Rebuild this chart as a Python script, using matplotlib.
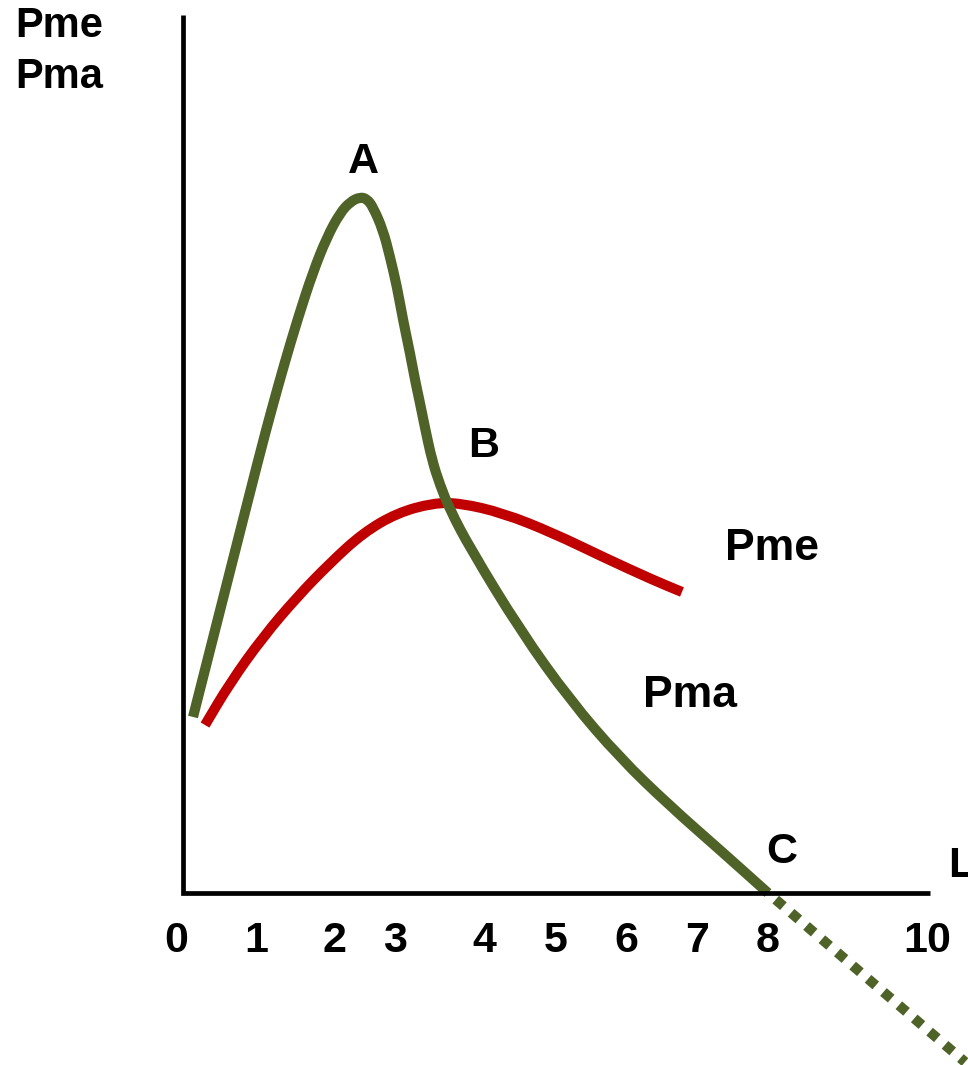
import numpy as np
import matplotlib
matplotlib.use("Agg")
import matplotlib.pyplot as plt
from matplotlib.path import Path
from matplotlib.patches import PathPatch

# ---- data (units of L on x, product on y) ----
pma_x = [0.137, 0.602, 1.053, 1.218, 1.382, 1.573, 1.778, 1.970, 2.148, 2.285,
         2.421, 2.517, 2.599, 2.736, 2.832, 2.928, 3.010, 3.105, 3.174, 3.242,
         3.311, 3.406, 3.516, 3.653, 3.926, 4.610, 5.294, 5.978, 6.662, 7.346,
         8.003]
pma_y = [2.408, 4.241, 6.019, 6.635, 7.223, 7.866, 8.495, 8.974, 9.302, 9.453,
         9.521, 9.494, 9.385, 9.070, 8.701, 8.290, 7.839, 7.387, 7.018, 6.703,
         6.361, 5.923, 5.581, 5.240, 4.720, 3.598, 2.640, 1.847, 1.190, 0.588,
         0.000]

# continuation of Pma below zero
pma_ext_x = [8.003, 10.698]
pma_ext_y = [0.000, -2.312]

pme_x = [0.301, 0.643, 1.094, 1.560, 2.011, 2.462, 2.927, 3.420, 3.789, 4.378,
         5.062, 5.746, 6.430, 6.826]
pme_y = [2.298, 2.873, 3.502, 4.049, 4.514, 4.925, 5.198, 5.335, 5.335, 5.198,
         4.925, 4.596, 4.282, 4.118]

tick_labels = ['0', '1', '2', '3', '4', '5', '6', '7', '8', '10']
tick_pos = [-0.096, 1.007, 2.079, 2.900, 4.118, 5.103, 6.060, 7.031, 8.003, 10.178]

# point labels: text, x, y
points = [('A', 2.462, 9.850), ('B', 4.118, 5.964), ('C', 8.194, 0.410)]

x_axis_end = 10.22
y_axis_end = 12.01

GREEN = '#4F6228'
RED = '#C00000'
FONT = ['Liberation Sans', 'Arial', 'DejaVu Sans']


def smooth_curve(xs, ys, color, lw):
    """Smooth line through the points: quadratic beziers via midpoints."""
    pts = np.column_stack([xs, ys])
    verts = [pts[0]]
    codes = [Path.MOVETO]
    mids = (pts[:-1] + pts[1:]) / 2.0
    verts.append(mids[0])
    codes.append(Path.LINETO)
    for i in range(1, len(pts) - 1):
        verts.extend([pts[i], mids[i]])
        codes.extend([Path.CURVE3, Path.CURVE3])
    verts.append(pts[-1])
    codes.append(Path.LINETO)
    patch = PathPatch(Path(verts, codes), facecolor='none', edgecolor=color,
                      lw=lw, capstyle='butt', joinstyle='round')
    ax.add_patch(patch)


# ---- figure: 73.1 px per unit, origin at pixel (183, 893) ----
W, H = 968, 1065
ppu = 73.1
ox, oy = 183, 893

fig = plt.figure(figsize=(W / 100, H / 100), dpi=100)
ax = fig.add_axes([0, 0, 1, 1])
ax.set_xlim(-ox / ppu, (W - ox) / ppu)
ax.set_ylim(-(H - oy) / ppu, oy / ppu)
ax.axis('off')

# axes lines
ax.plot([0, 0, x_axis_end], [y_axis_end, 0, 0], color='black', lw=3.4,
        solid_joinstyle='miter', solid_capstyle='butt')

# curves
smooth_curve(pme_x, pme_y, RED, 7.3)
smooth_curve(pma_x, pma_y, GREEN, 7.3)
ax.plot(pma_ext_x, pma_ext_y, color=GREEN, lw=7.3, linestyle=(1, (1, 1)),
        dash_capstyle='butt')

txt = dict(fontfamily=FONT, fontweight='bold', color='black')

# y axis title
ax.text(15 / ppu - ox / ppu, 11.710, 'Pme', ha='left', va='baseline', fontsize=30, **txt)
ax.text(15 / ppu - ox / ppu, 11.012, 'Pma', ha='left', va='baseline', fontsize=30, **txt)

# x axis title
ax.text(10.465, 0.219, 'L', ha='left', va='baseline', fontsize=31, **txt)

# curve names
ax.text(7.415, 4.555, 'Pme', ha='left', va='baseline', fontsize=32, **txt)
ax.text(6.293, 2.544, 'Pma', ha='left', va='baseline', fontsize=32, **txt)

for name, px, py in points:
    ax.text(px, py, name, ha='center', va='baseline', fontsize=31, **txt)

for lab, p in zip(tick_labels, tick_pos):
    ax.text(p, -0.807, lab, ha='center', va='baseline', fontsize=31, **txt)

fig.savefig('out.png', dpi=100)
